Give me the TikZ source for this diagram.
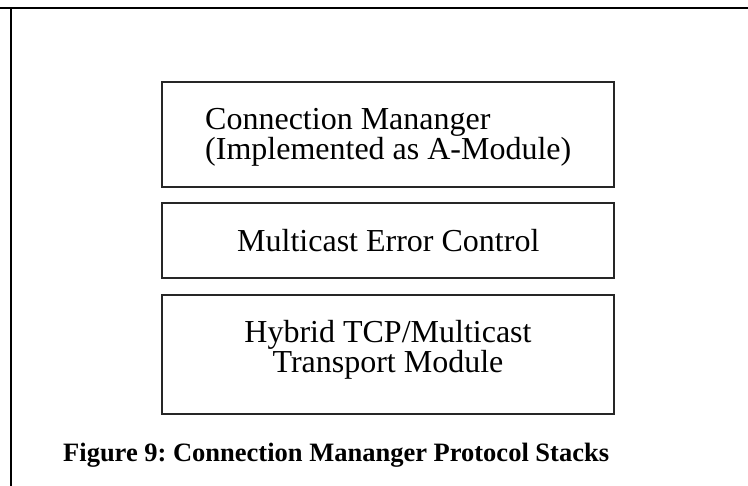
\documentclass[tikz,border=0pt]{standalone}
\usepackage{fontspec}
\setmainfont{Liberation Serif}
\frenchspacing
\begin{document}
\begin{tikzpicture}[x=1pt,y=-1pt,
  stackbox/.style={draw=black!85, line width=1.3pt, rectangle, inner sep=0pt},
  layertext/.style={inner sep=0pt, font=\fontsize{32}{30}\selectfont},
  captiontext/.style={inner sep=0pt, font=\fontsize{26.5}{30}\selectfont\bfseries},
  rule/.style={draw=black, line width=2pt}]
  \useasboundingbox (0,0) rectangle (748,486);

  % frame rules along the top and the left
  \coordinate (tl) at (0,8.3);
  \coordinate (tr) at (748,8.3);
  \coordinate (lt) at (11,8.3);
  \coordinate (lb) at (11,486);
  \draw[rule] (tl) -- (tr);
  \draw[rule] (lt) -- (lb);

  % protocol stack layers
  \node[stackbox, minimum width=452pt, minimum height=105pt] (cm) at (388,134.5) {};
  \node[stackbox, minimum width=452pt, minimum height=75pt] (mec) at (388,240.5) {};
  \node[stackbox, minimum width=452pt, minimum height=119pt] (htm) at (388,354.5) {};

  \node[layertext, anchor=base west] (cm1) at (205,130) {Connection Mananger};
  \node[layertext, anchor=base west] (cm2) at (205,160) {(Implemented as A-Module)};
  \node[layertext, anchor=base west] (mec1) at (237,252) {Multicast Error Control};
  \node[layertext, anchor=base] (htm1) at (388,343) {Hybrid TCP/Multicast};
  \node[layertext, anchor=base] (htm2) at (388,373) {Transport Module};

  % caption
  \node[captiontext, anchor=base west] (cap) at (63,462) {Figure 9: Connection Mananger Protocol Stacks};
\end{tikzpicture}
\end{document}
